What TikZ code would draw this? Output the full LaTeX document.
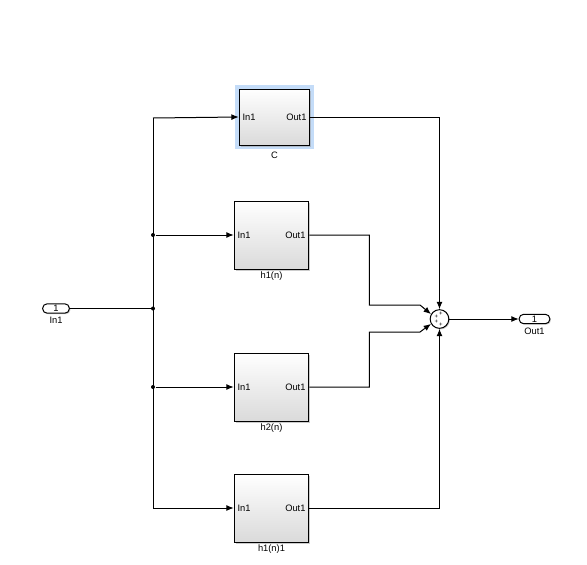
\documentclass[tikz,border=0pt]{standalone}
\usepackage{fontspec}
\setmainfont{Liberation Sans}
\usetikzlibrary{positioning,arrows.meta,shadows}
\definecolor{SLSel}{HTML}{C4DCF8}
\definecolor{SLGrey}{HTML}{DADADA}
\definecolor{SLShadow}{HTML}{9A9A9A}

\begin{document}
\begin{tikzpicture}[x=0.75pt,y=-0.75pt,>={Latex[length=5.5pt,width=4.5pt]},
    line width=0.75pt,node distance=1pt]
  \tikzstyle{block}=[draw,top color=white,bottom color=SLGrey,inner sep=0pt,
    minimum width=56pt,minimum height=51pt,
    drop shadow={shadow xshift=1.2pt,shadow yshift=-1.2pt,fill=SLShadow}]
  \tikzstyle{lbl}=[font=\fontsize{7}{8}\selectfont,inner sep=0.5pt]
  \tikzstyle{pin}=[lbl,inner sep=2.5pt]
  \tikzstyle{port}=[draw,fill=white,rounded corners=3.3pt,inner sep=0pt,
    minimum width=20pt,minimum height=7pt,font=\fontsize{7}{8}\selectfont,
    drop shadow={shadow xshift=0.8pt,shadow yshift=-0.8pt,fill=SLShadow}]
  \tikzstyle{dot}=[circle,fill,inner sep=0pt,minimum size=3pt]
  \tikzstyle{plus}=[font=\fontsize{4.5}{4.5}\selectfont,inner sep=0pt]
  \fill[white] (0,0) rectangle (587,565);
  \useasboundingbox (0,0) rectangle (587,565);

  % blocks
  \node[fill=SLSel,minimum width=59pt,minimum height=48pt] (Csel) at (274.5,117) {};
  \node[block,minimum width=53pt,minimum height=42pt] (C) at (274.5,117) {};
  \node[block] (h1) at (271.5,235) {};
  \node[block] (h2) at (271.5,387) {};
  \node[block] (h1n1) at (271.5,508) {};
  \node[lbl,below=of Csel] (Clbl) {C};
  \node[lbl,below=of h1] (h1lbl) {h1(n)};
  \node[lbl,below=of h2] (h2lbl) {h2(n)};
  \node[lbl,below=of h1n1] (h1n1lbl) {h1(n)1};
  \foreach \b in {C,h1,h2,h1n1} {
    \node[pin,anchor=west] (\b in) at (\b.west) {In1};
    \node[pin,anchor=east] (\b out) at (\b.east) {Out1};
  }

  % ports and sum
  \node[port] (in1) at (56,308.5) {1};
  \node[lbl,below=2pt of in1] (in1lbl) {In1};
  \node[port,minimum width=23pt] (out1) at (534.5,319) {1};
  \node[lbl,below=2pt of out1] (out1lbl) {Out1};
  \node[circle,draw,fill=white,minimum size=14pt,inner sep=0pt,
    drop shadow={shadow xshift=0.8pt,shadow yshift=-0.8pt,fill=SLShadow}] (sum) at (439.5,319) {};
  \node[plus] (p1) at ([shift={(1.5,-5.5)}]sum) {+};
  \node[plus] (p2) at ([shift={(-3,-1.8)}]sum) {+};
  \node[plus] (p3) at ([shift={(-3,3)}]sum) {+};
  \node[plus] (p4) at ([shift={(1.5,6)}]sum) {+};

  % branch points
  \coordinate (jtop) at (153,118);
  \coordinate (jbot) at (153,508);
  \node[dot] (j1) at (153,235) {};
  \node[dot] (j2) at (153,308.5) {};
  \node[dot] (j3) at (153,387) {};

  % connections
  \draw (in1) -- (j2);
  \draw (jtop) -- (jbot);
  \draw[->] (jtop) -- (C.west);
  \draw[->] (j1) -- (h1.west);
  \draw[->] (j3) -- (h2.west);
  \draw[->] (jbot) -- (h1n1.west);
  \draw[->] (C.east) -| (sum.north);
  \draw[->] (h1.east) -- ++(60,0) |- (420,305) -- (sum.150);
  \draw[->] (h2.east) -- ++(60,0) |- (420,332) -- (sum.210);
  \draw[->] (h1n1.east) -| (sum.south);
  \draw[->] (sum) -- (out1);
\end{tikzpicture}
\end{document}
